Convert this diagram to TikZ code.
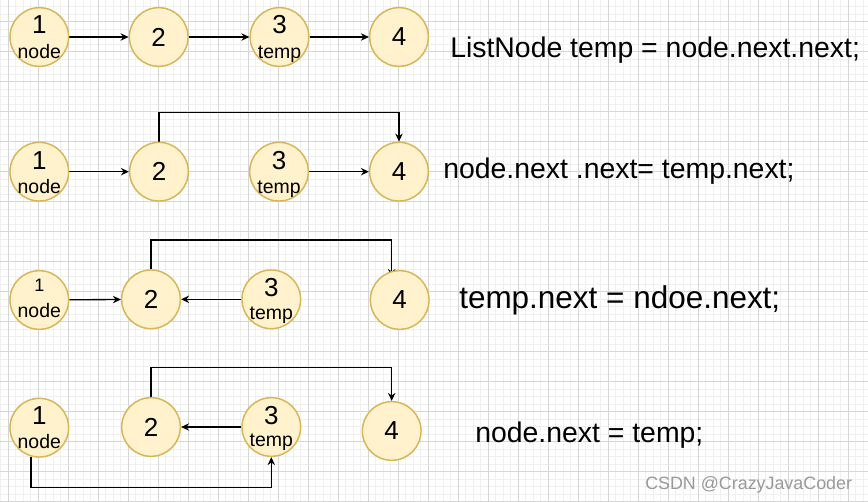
\documentclass[tikz,border=0pt]{standalone}
\usepackage{fontspec}
\setmainfont{Liberation Sans}
\usetikzlibrary{arrows.meta,calc}
\pgfdeclarelayer{gridlayer}
\pgfdeclarelayer{edgelayer}
\pgfsetlayers{gridlayer,edgelayer,main}
\definecolor{nodefill}{HTML}{FFF2CC}
\definecolor{nodeline}{HTML}{D6B656}
\definecolor{gridmajor}{HTML}{D6D6D6}
\definecolor{gridminor}{HTML}{F0F0F0}
\definecolor{wmgray}{HTML}{999999}
\begin{document}
\begin{tikzpicture}[x=0.75pt,y=-0.75pt,
  llnode/.style={circle, draw=nodeline, fill=nodefill, line width=1.1pt, minimum size=44pt, inner sep=0pt, font=\fontsize{19.5}{19.5}\selectfont},
  numtxt/.style={anchor=base, inner sep=0pt, font=\fontsize{19.5}{19.5}\selectfont},
  smallnum/.style={anchor=base, inner sep=0pt, font=\fontsize{13.5}{13.5}\selectfont},
  wordtxt/.style={anchor=base, inner sep=0pt, font=\fontsize{14.6}{14.6}\selectfont},
  conn/.style={draw=black, line width=1pt, -{Stealth[length=6pt,width=5.5pt]}},
  codetxt/.style={anchor=base west, inner sep=0pt, font=\fontsize{21.3}{21.3}\selectfont},
  bigcode/.style={anchor=base west, inner sep=0pt, font=\fontsize{23.6}{23.6}\selectfont},
  wmtxt/.style={anchor=base west, inner sep=0pt, text=wmgray, font=\fontsize{13.4}{13.4}\selectfont}]
\useasboundingbox (0,0) rectangle (868,502);
\begin{pgfonlayer}{gridlayer}
  \fill[white] (0,0) rectangle (868,502);
  \foreach \x in {0.8,8.3,...,868} \draw[gridminor, line width=0.7pt] (\x,0) -- (\x,502);
  \foreach \y in {6.7,14.2,...,502} \draw[gridminor, line width=0.7pt] (0,\y) -- (868,\y);
  \foreach \x in {8.3,38.3,...,868} \draw[gridmajor, line width=0.75pt] (\x,0) -- (\x,502);
  \foreach \y in {21.7,51.7,...,502} \draw[gridmajor, line width=0.75pt] (0,\y) -- (868,\y);
\end{pgfonlayer}

% Row 1
\node[llnode] (n11) at (39.3,37) {};
\node[numtxt] (n11a) at ($(n11)+(0,-3.5)$) {1};
\node[wordtxt] (n11b) at ($(n11)+(0,22)$) {node};
\node[llnode] (n12) at (158.7,37) {2};
\node[llnode] (n13) at (279.5,37) {};
\node[numtxt] (n13a) at ($(n13)+(0,-3.5)$) {3};
\node[wordtxt] (n13b) at ($(n13)+(0,22)$) {temp};
\node[llnode] (n14) at (399,37) {4};

% Row 2
\node[llnode] (n21) at (39.3,171.7) {};
\node[numtxt] (n21a) at ($(n21)+(0,-2.5)$) {1};
\node[wordtxt] (n21b) at ($(n21)+(0,22)$) {node};
\node[llnode] (n22) at (159,171.7) {2};
\node[llnode] (n23) at (279,171.7) {};
\node[numtxt] (n23a) at ($(n23)+(0,-2.5)$) {3};
\node[wordtxt] (n23b) at ($(n23)+(0,22)$) {temp};
\node[llnode] (n24) at (399,171.7) {4};

% Row 3
\node[llnode] (n31) at (39.3,300) {};
\node[smallnum] (n31a) at ($(n31)+(0,-8)$) {1};
\node[wordtxt] (n31b) at ($(n31)+(0,17.5)$) {node};
\node[llnode] (n32) at (151,299.3) {2};
\node[llnode] (n33) at (271.3,299.3) {};
\node[numtxt] (n33a) at ($(n33)+(0,-2.6)$) {3};
\node[wordtxt] (n33b) at ($(n33)+(0,20.7)$) {temp};
\node[llnode] (n34) at (399.7,300) {4};
\coordinate (t34) at (391.7,277);

% Row 4
\node[llnode] (n41) at (39.3,427.7) {};
\node[numtxt] (n41a) at ($(n41)+(0,-3.4)$) {1};
\node[wordtxt] (n41b) at ($(n41)+(0,21)$) {node};
\node[llnode] (n42) at (151,427) {2};
\node[llnode] (n43) at (271.3,427) {};
\node[numtxt] (n43a) at ($(n43)+(0,-3)$) {3};
\node[wordtxt] (n43b) at ($(n43)+(0,19.7)$) {temp};
\node[llnode] (n44) at (391.7,431) {4};

% Connectors
\begin{pgfonlayer}{edgelayer}
  \draw[conn] (n11) -- (n12);
  \draw[conn] (n12) -- (n13);
  \draw[conn] (n13) -- (n14);

  \draw[conn] (n21) -- (n22);
  \draw[conn] (n23) -- (n24);
  \draw[conn] (n22.north) -- ++(0,-29) -| (n24.north);

  \draw[conn] (n31) -- (n32);
  \draw[conn] (n33) -- (n32);
  \draw[conn] (n32.north) -- ++(0,-29.3) -| (t34);

  \draw[conn] (n43) -- (n42);
  \draw[conn] (n42.north) -- ++(0,-29.7) -| (n44.north);
  \draw[conn] (n41.254) -- ++(0,31) -| (n43.south);
\end{pgfonlayer}

% Code text
\node[codetxt] (c1) at (450,57.6) {ListNode temp = node.next.next;};
\node[codetxt] (c2) at (443,178.5) {node.next .next= temp.next;};
\node[bigcode] (c3) at (459,308.3) {temp.next = ndoe.next;};
\node[codetxt] (c4) at (475,442) {node.next = temp;};
\node[wmtxt] (wm) at (645,489) {CSDN @CrazyJavaCoder};
\end{tikzpicture}
\end{document}
